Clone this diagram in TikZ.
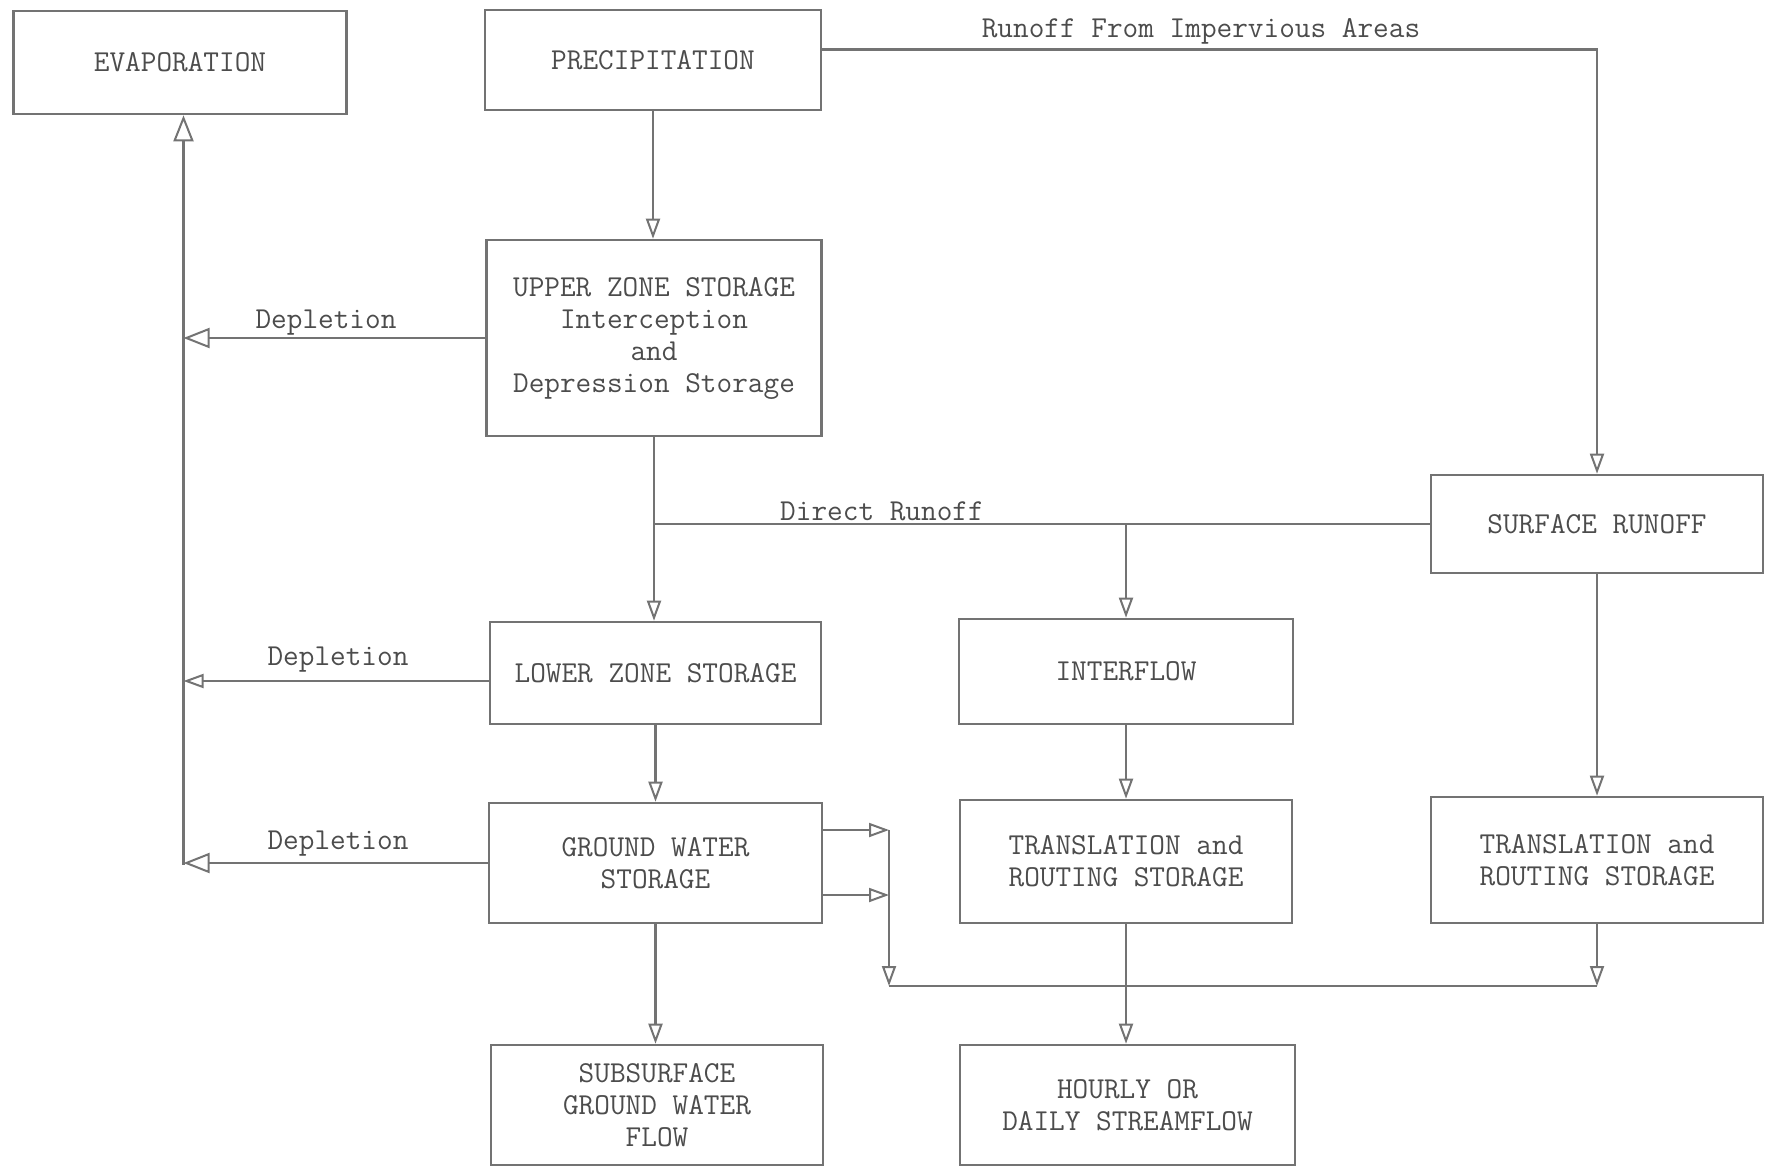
\documentclass[tikz,border=0pt]{standalone}
\usetikzlibrary{arrows.meta}
\definecolor{lin}{gray}{0.45}
\definecolor{txt}{gray}{0.30}
\begin{document}
\begin{tikzpicture}[x=0.5pt,y=-0.5pt,
  box/.style={draw=lin,line width=1.3pt,inner sep=0pt,align=center,text=txt,
    font=\ttfamily\fontsize{15.2}{16}\selectfont},
  lbl/.style={inner sep=0pt,text=txt,font=\ttfamily\fontsize{15.2}{16}\selectfont},
  conn/.style={draw=lin,line width=1.1pt},
  arr/.style={conn,-{Triangle[open,length=10pt,width=7pt,line width=1pt]}},
  bigarr/.style={conn,-{Triangle[open,length=13pt,width=10pt,line width=1pt]}}]
\useasboundingbox (0,0) rectangle (1765,1167);
% boxes
\node[box,minimum width=166.5pt,minimum height=51.5pt] (evap) at (180,62.5) {EVAPORATION};
\node[box,minimum width=168pt,minimum height=50pt] (precip) at (653,60) {PRECIPITATION};
\node[box,minimum width=167.5pt,minimum height=98pt] (upper) at (654,338) {UPPER ZONE STORAGE\\Interception\\and\\Depression Storage};
\node[box,minimum width=166pt,minimum height=49pt] (sr) at (1597,524) {SURFACE RUNOFF};
\node[box,minimum width=165.5pt,minimum height=51pt] (lower) at (655.5,673) {LOWER ZONE STORAGE};
\node[box,minimum width=167pt,minimum height=52.5pt] (inter) at (1126,671.5) {INTERFLOW};
\node[box,minimum width=166.5pt,minimum height=60pt] (gw) at (655.5,863) {GROUND WATER\\STORAGE};
\node[box,minimum width=166pt,minimum height=61.5pt] (trm) at (1126,861.5) {TRANSLATION and\\ROUTING STORAGE};
\node[box,minimum width=166pt,minimum height=63pt] (trr) at (1597,860) {TRANSLATION and\\ROUTING STORAGE};
\node[box,minimum width=166pt,minimum height=60pt] (sub) at (657,1105) {SUBSURFACE\\GROUND WATER\\FLOW};
\node[box,minimum width=167.5pt,minimum height=60pt] (hour) at (1127.5,1105) {HOURLY OR\\DAILY STREAMFLOW};
% coordinates
\coordinate (ev) at (183.5,864.5);
\coordinate (gv) at (889,830);
\coordinate (gb) at (889,986);
% precipitation
\draw[arr] (precip.south) -- (precip.south |- upper.north);
\draw[arr] ([yshift=5.25pt]precip.east) -- ([yshift=5.25pt]precip.east -| sr.north) -- (sr.north);
\node[lbl] (limp) at (1201,31) {Runoff From Impervious Areas};
% upper zone
\draw[arr] (upper.south) -- (upper.south |- lower.north);
\draw[conn] (sr.west) -- (upper.south |- sr.west);
\draw[arr] (inter.north |- sr.west) -- (inter.north);
\node[lbl] (ldr) at (882,511) {Direct Runoff};
% surface runoff
\draw[arr] (sr.south) -- (trr.north);
\draw[arr] (trr.south) -- (trr.south |- gb);
% interflow
\draw[arr] (inter.south) -- (trm.north);
\draw[arr] (trm.south) -- (trm.south |- hour.north);
% lower and ground water
\draw[arr] (lower.south) -- (gw.north);
\draw[arr] (gw.south) -- (gw.south |- sub.north);
\draw[arr] ([yshift=16.5pt]gw.east) -- ([yshift=16.5pt]gw.east -| gv);
\draw[arr] ([yshift=-16pt]gw.east) -- ([yshift=-16pt]gw.east -| gv);
\draw[arr] (gv) -- (gb);
\draw[conn] (gb) -- (trr.south |- gb);
% evaporation and depletion
\draw[bigarr] (ev) -- (ev |- evap.south);
\draw[bigarr] (upper.west) -- (upper.west -| ev);
\draw[arr] ([yshift=-4pt]lower.west) -- ([yshift=-4pt]lower.west -| ev);
\draw[bigarr] (gw.west) -- (gw.west -| ev);
\node[lbl] (d1) at (326,323) {Depletion};
\node[lbl] (d2) at (338,660) {Depletion};
\node[lbl] (d3) at (338,844) {Depletion};
\end{tikzpicture}
\end{document}
